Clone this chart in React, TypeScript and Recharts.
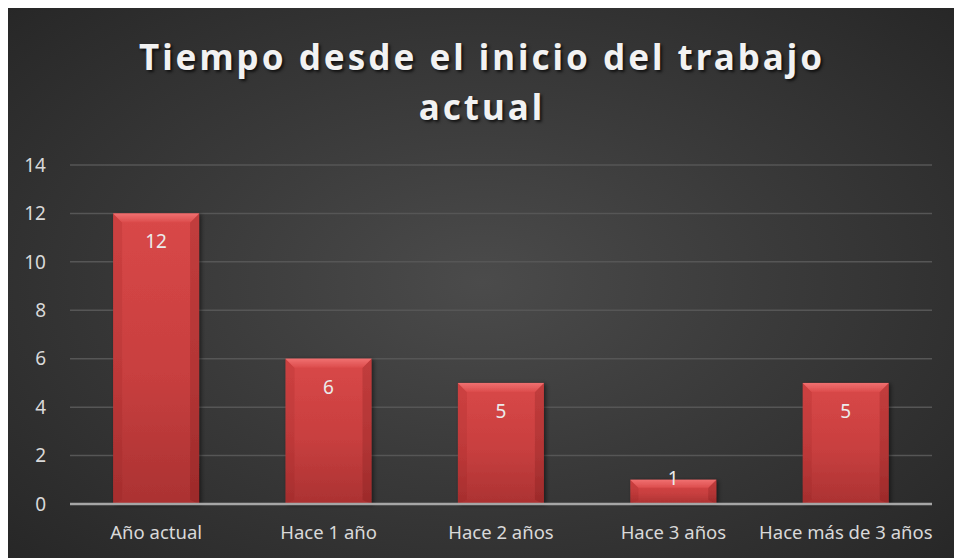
import React from "react";
import { BarChart, Bar, XAxis, YAxis, CartesianGrid, LabelList } from "recharts";

const categories = ["Año actual", "Hace 1 año", "Hace 2 años", "Hace 3 años", "Hace más de 3 años"];
const counts = [12, 6, 5, 1, 5];
const yTicks = [0, 2, 4, 6, 8, 10, 12, 14];
const titleLines = ["Tiempo desde el inicio del trabajo", "actual"];

const data = categories.map((c, i) => ({ name: c, value: counts[i] }));

const FONT = "'Noto Sans', 'Open Sans', sans-serif";

const BevelBar = (props: any) => {
  const { x, y, width, height } = props;
  if (!height || height <= 0) return null;
  const b = Math.min(9, height / 3);
  const s = Math.min(4, height / 4);
  return (
    <g filter="url(#barShadow)">
      <rect x={x} y={y} width={width} height={height} fill="url(#barBody)" />
      <polygon
        points={`${x},${y} ${x + b},${y + b} ${x + b},${y + height - s} ${x},${y + height}`}
        fill="rgba(120,20,20,0.12)"
      />
      <polygon
        points={`${x + width},${y} ${x + width - b},${y + b} ${x + width - b},${y + height - s} ${x + width},${y + height}`}
        fill="rgba(90,10,10,0.18)"
      />
      <polygon
        points={`${x},${y} ${x + width},${y} ${x + width - b},${y + b} ${x + b},${y + b}`}
        fill="url(#barTop)"
      />
    </g>
  );
};

const InsideLabel = (props: any) => {
  const { x, y, width, height, value } = props;
  const cy = height >= 40 ? y + 28 : y + height - 26;
  return (
    <text
      x={x + width / 2}
      y={cy}
      textAnchor="middle"
      dominantBaseline="central"
      fill="#ebebeb"
      fontSize={19}
      fontFamily={FONT}
    >
      {value}
    </text>
  );
};

export default function App() {
  return (
    <div
      style={{
        position: "relative",
        width: 956,
        height: 552,
        margin: "-2px 0 0 -4px",
        borderTopLeftRadius: 6,
        borderTopRightRadius: 6,
        background: "radial-gradient(ellipse 70% 75% at 50% 50%, #4b4b4b 0%, #3a3a3a 45%, #262626 100%)",
        fontFamily: FONT,
      }}
    >
      <div
        style={{
          position: "absolute",
          left: 0,
          top: 26,
          width: 956,
          textAlign: "center",
          color: "#f2f2f2",
          fontWeight: 700,
          fontSize: 35,
          letterSpacing: 3,
          lineHeight: "50px",
          textShadow: "2px 2px 3px rgba(0,0,0,0.7)",
        }}
      >
        {titleLines.map((l) => (
          <div key={l}>{l}</div>
        ))}
      </div>
      <BarChart
        width={956}
        height={552}
        data={data}
        margin={{ top: 159, right: 28, left: 0, bottom: 24 }}
        barCategoryGap="25%"
        style={{ position: "absolute", left: 0, top: 0 }}
      >
        <defs>
          <linearGradient id="barBody" x1="0" y1="0" x2="0" y2="1">
            <stop offset="0%" stopColor="#d94848" />
            <stop offset="55%" stopColor="#c83f3f" />
            <stop offset="100%" stopColor="#ab3232" />
          </linearGradient>
          <linearGradient id="barTop" x1="0" y1="0" x2="0" y2="1">
            <stop offset="0%" stopColor="#f07070" />
            <stop offset="100%" stopColor="#dc4c4c" />
          </linearGradient>
          <filter id="barShadow" x="-10%" y="-10%" width="125%" height="120%">
            <feDropShadow dx="2" dy="1" stdDeviation="2" floodColor="#000" floodOpacity="0.5" />
          </filter>
        </defs>
        <CartesianGrid vertical={false} stroke="#565656" strokeWidth={1.5} />
        <XAxis
          dataKey="name"
          axisLine={{ stroke: "#a6a6a6", strokeWidth: 2.5 }}
          tickLine={false}
          tick={{ fill: "#d9d9d9", fontSize: 18.5, fontFamily: FONT }}
          tickMargin={16}
          height={30}
          interval={0}
        />
        <YAxis
          domain={[0, 14]}
          ticks={yTicks}
          width={66}
          axisLine={false}
          tickLine={false}
          tickSize={0}
          tickMargin={24}
          tick={{ fill: "#d9d9d9", fontSize: 19, fontFamily: FONT }}
        />
        <Bar dataKey="value" shape={<BevelBar />} isAnimationActive={false}>
          <LabelList dataKey="value" content={<InsideLabel />} />
        </Bar>
      </BarChart>
    </div>
  );
}
